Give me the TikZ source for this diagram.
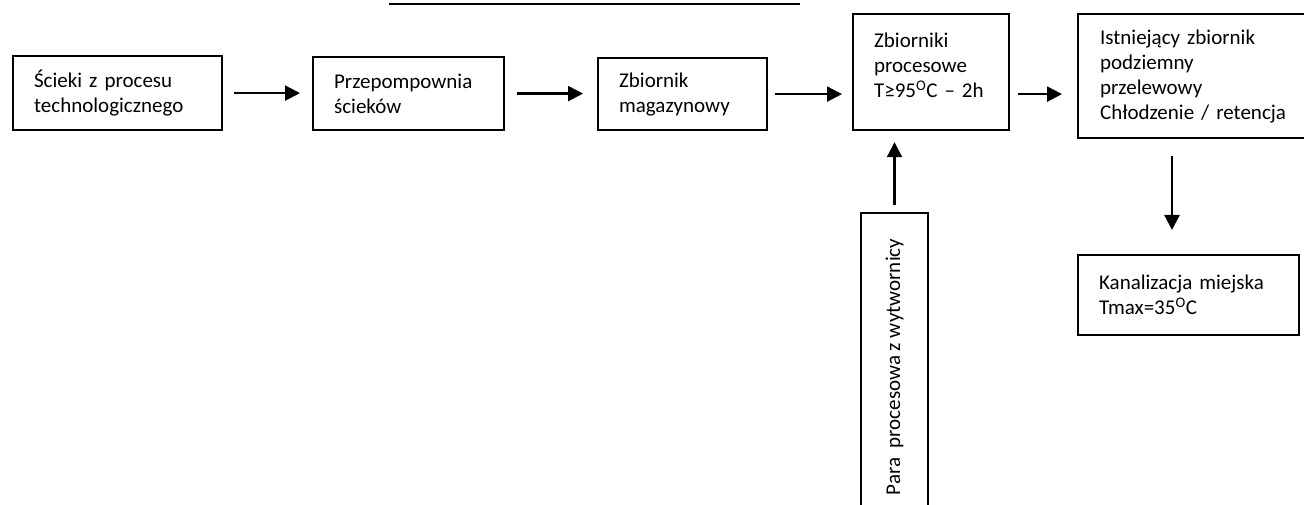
\documentclass[tikz,border=0pt]{standalone}
\usepackage{fontspec}
\setmainfont{Carlito}
\usetikzlibrary{arrows.meta}
\begin{document}
\begin{tikzpicture}[x=1pt,y=-1pt,>={Triangle[length=15pt,width=15pt]},
   box/.style={draw,line width=2.2pt,rectangle,anchor=north west,align=left,
      inner xsep=21pt,inner ysep=0pt,font=\fontsize{21pt}{25pt}\selectfont},
   arr/.style={->,line width=2.2pt}]
   \useasboundingbox (0,0) rectangle (1304,505);
   \clip (0,0) rectangle (1304,505);

   % 表題の下線
   \draw[line width=2.4pt] (389,4) -- (800,4);

   % 箱
   \node[box,text width=167pt,minimum height=74pt] (scieki) at (12,55) {Ścieki z procesu\\technologicznego};
   \node[box,text width=149pt,minimum height=73pt] (przep) at (312,56) {Przepompownia\\ścieków};
   \node[box,text width=127pt,minimum height=72pt] (magaz) at (597,57) {Zbiornik\\magazynowy};
   \node[box,text width=114pt,minimum height=116pt] (proc) at (852,13) {Zbiorniki\\procesowe\\T≥95\textsuperscript{O}C – 2h\\[-12pt]~};
   \node[box,inner xsep=22pt,text width=199pt,minimum height=124pt] (istn) at (1077,13) {Istniejący zbiornik\\podziemny\\przelewowy\\Chłodzenie / retencja};
   \node[box,text width=179pt,minimum height=80pt] (kanal) at (1077,254) {Kanalizacja miejska\\Tmax=35\textsuperscript{O}C};
   \node[box,anchor=center,align=center,rotate=90,minimum width=308pt,minimum height=67pt] (para) at (894.5,367) {Para\ \ procesowa z wytwornicy};

   % 矢印
   \draw[arr,shorten <=11pt,shorten >=12pt] (scieki.east) -- (scieki.east -| przep.west);
   \draw[arr,shorten <=12pt,shorten >=14pt] (przep.east) -- (przep.east -| magaz.west);
   \draw[arr,shorten <=7pt,shorten >=10pt] (magaz.east) -- (magaz.east -| proc.west);
   \draw[arr,shorten <=8pt,shorten >=15pt] (proc.east |- magaz.east) -- (istn.west |- magaz.east);
   \draw[arr,shorten <=17pt,shorten >=24pt] ([xshift=95pt]istn.south west) -- ([xshift=95pt]kanal.north west);
   \draw[arr,shorten <=7pt,shorten >=11pt] (para.east) -- (para.east |- proc.south);

\end{tikzpicture}
\end{document}
